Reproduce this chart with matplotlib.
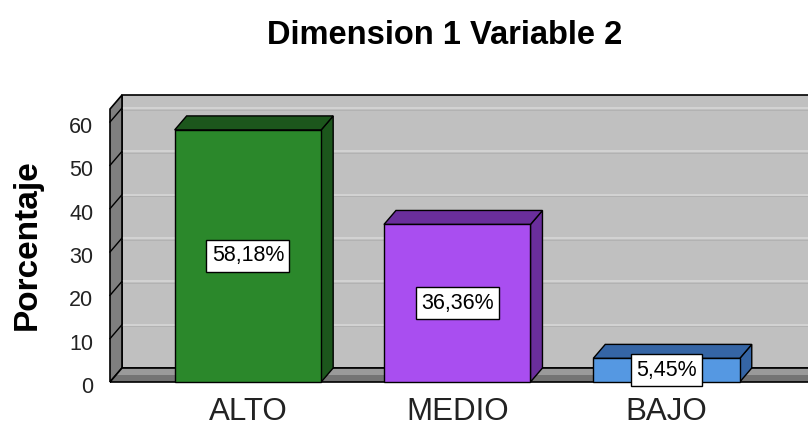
import matplotlib
matplotlib.use("Agg")
import matplotlib.pyplot as plt
from matplotlib.patches import Polygon, Rectangle
from matplotlib.transforms import ScaledTranslation

plt.rcParams['font.family'] = ['Liberation Sans', 'DejaVu Sans']

categories = ["ALTO", "MEDIO", "BAJO"]
values = [58.18, 36.36, 5.45]
value_labels = ["58,18%", "36,36%", "5,45%"]
yticks = [0, 10, 20, 30, 40, 50, 60]

front_colors = ["#2b882b", "#a94ef0", "#5598e2"]
dark_colors = ["#1c561c", "#6a2e9c", "#3565a5"]

fig = plt.figure(figsize=(8.08, 4.28), dpi=100)
ax = fig.add_axes([110 / 808, 46 / 428, 698 / 808, 303.3 / 428])
x0, x1 = -0.659, 2.676
ax.set_xlim(x0, x1)
ax.set_ylim(0, 70)
for s in ax.spines.values():
    s.set_visible(False)
ax.patch.set_visible(False)

DX, DY = 0.0573, 3.23
wall_top = 63.0
bw = 0.70

# back wall
ax.add_patch(Rectangle((x0 + DX, DY), x1 - x0, wall_top, facecolor="#c0c0c0",
                       edgecolor="black", lw=1.2, clip_on=False, zorder=1))
for v in yticks[1:]:
    ax.plot([x0 + DX, x1 + 0.1], [v + DY, v + DY], color="#d6d6d6", lw=1.2,
            zorder=1.5, clip_on=False)
    ax.plot([x0 + DX, x1 + 0.1], [v + DY - 0.35, v + DY - 0.35], color="#b0b0b0", lw=0.6,
            zorder=1.5, clip_on=False)
# left wall
ax.add_patch(Polygon([(x0, 0), (x0 + DX, DY), (x0 + DX, wall_top + DY), (x0, wall_top)],
                     closed=True, facecolor="#7f7f7f", edgecolor="black", lw=1.2,
                     clip_on=False, zorder=2))
for v in yticks[1:]:
    ax.plot([x0, x0 + DX], [v, v + DY], color="black", lw=1, zorder=2.5, clip_on=False)
# floor (two-tone for a gradient look)
ax.add_patch(Polygon([(x0, 0), (x1 + 0.1, 0), (x1 + 0.1, DY), (x0 + DX, DY)],
                     closed=True, facecolor="#747474", edgecolor="none",
                     clip_on=False, zorder=2))
ax.add_patch(Polygon([(x0 + DX * 0.5, DY * 0.5), (x1 + 0.1, DY * 0.5), (x1 + 0.1, DY),
                      (x0 + DX, DY)], closed=True, facecolor="#9a9a9a", edgecolor="none",
                     clip_on=False, zorder=2))
ax.add_patch(Polygon([(x0, 0), (x1 + 0.1, 0), (x1 + 0.1, DY), (x0 + DX, DY)],
                     closed=True, facecolor="none", edgecolor="black", lw=1.2,
                     clip_on=False, zorder=2.2))

# bars
for i, (v, fc, dc, lab) in enumerate(zip(values, front_colors, dark_colors, value_labels)):
    l, r = i - bw / 2, i + bw / 2
    ax.add_patch(Polygon([(r, 0), (r + DX, DY), (r + DX, v + DY), (r, v)], closed=True,
                         facecolor=dc, edgecolor="black", lw=1, zorder=3, clip_on=False))
    ax.add_patch(Polygon([(l, v), (r, v), (r + DX, v + DY), (l + DX, v + DY)], closed=True,
                         facecolor=dc, edgecolor="black", lw=1, zorder=3, clip_on=False))
    ax.add_patch(Rectangle((l, 0), bw, v, facecolor=fc, edgecolor="black", lw=1,
                           zorder=4, clip_on=False))
    ax.text(i, v / 2, lab, ha="center", va="center", fontsize=15.5, zorder=6,
            bbox=dict(boxstyle="square,pad=0.25", facecolor="white", edgecolor="black", lw=1))

ax.set_xticks(range(len(categories)))
ax.set_xticklabels(categories, fontsize=22.5, color="#222222")
ax.set_yticks(yticks)
ax.set_yticklabels([str(t) for t in yticks], fontsize=15.5, color="#222222")
ax.tick_params(axis="x", length=0, pad=11)
ax.tick_params(axis="y", length=0, pad=12)
shift = ScaledTranslation(0, -3 / 100, fig.dpi_scale_trans)
for t in ax.get_yticklabels():
    t.set_transform(t.get_transform() + shift)

fig.text(27 / 808, 1 - 245 / 428, "Porcentaje", rotation=90, ha="center", va="center",
         fontsize=24, fontweight="bold")
fig.text(445 / 808, 1 - 36 / 428, "Dimension 1 Variable 2", ha="center", va="center",
         fontsize=23.5, fontweight="bold")

fig.savefig("out.png", dpi=100, facecolor="white")
